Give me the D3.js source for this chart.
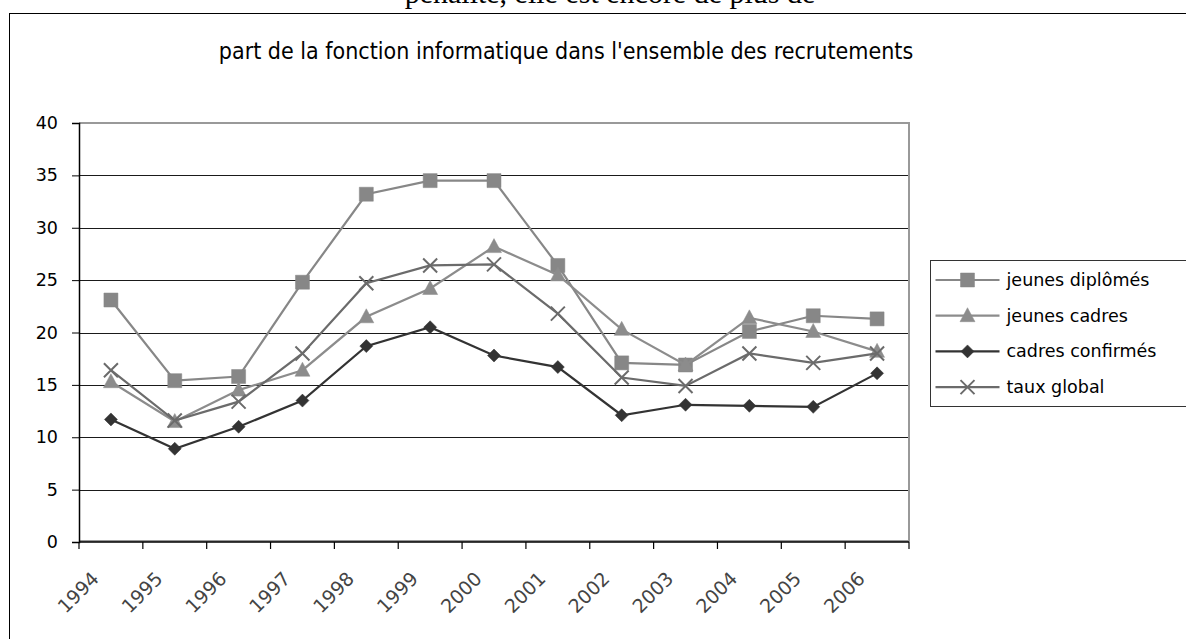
<!DOCTYPE html>
<html>
<head>
<meta charset="utf-8">
<script src="https://cdn.jsdelivr.net/npm/d3@7"></script>
<style>
  body { margin: 0; background: #fff; }
  svg { display: block; }
</style>
</head>
<body>
<script>
const years = ["1994","1995","1996","1997","1998","1999","2000","2001","2002","2003","2004","2005","2006"];
const jeunesDiplomes = [23.1, 15.4, 15.8, 24.8, 33.2, 34.5, 34.5, 26.4, 17.1, 16.9, 20.1, 21.6, 21.3];
const jeunesCadres = [15.3, 11.5, 14.5, 16.4, 21.5, 24.2, 28.2, 25.5, 20.3, 16.9, 21.4, 20.1, 18.2];
const cadresConfirmes = [11.7, 8.9, 11.0, 13.5, 18.7, 20.5, 17.8, 16.7, 12.1, 13.1, 13.0, 12.9, 16.1];
const tauxGlobal = [16.4, 11.6, 13.4, 18.0, 24.7, 26.4, 26.5, 21.8, 15.7, 14.9, 18.0, 17.1, 18.0];
const yTicks = [0, 5, 10, 15, 20, 25, 30, 35, 40];

const series = [
    {name: "jeunes diplômés", values: jeunesDiplomes, color: "#878787", marker: "square"},
    {name: "jeunes cadres", values: jeunesCadres, color: "#8c8c8c", marker: "triangle"},
    {name: "cadres confirmés", values: cadresConfirmes, color: "#333333", marker: "diamond"},
    {name: "taux global", values: tauxGlobal, color: "#6b6b6b", marker: "cross"}
];

const chart = {
    width: 1186,
    height: 639,
    plot: {left: 79, right: 909, top: 123, bottom: 542}
};

let svg = d3.select("body")
    .append("svg")
    .attr("width", chart.width)
    .attr("height", chart.height);

// bit of the surrounding document, cut off at the top like in the scan
svg.append("text")
    .attr("x", 610)
    .attr("y", 3)
    .attr("text-anchor", "middle")
    .style("font-family", "'Liberation Serif', 'DejaVu Serif', serif")
    .style("font-size", "30px")
    .text("penalité, elle est encore de plus de");

// outer frame
svg.append("rect")
    .attr("x", 9.5)
    .attr("y", 13.5)
    .attr("width", 1200)
    .attr("height", 700)
    .attr("fill", "none")
    .attr("stroke", "#000")
    .attr("stroke-width", 1);

svg.append("text")
    .attr("x", 566)
    .attr("y", 59)
    .attr("text-anchor", "middle")
    .style("font-family", "'Liberation Sans Narrow', 'DejaVu Sans Condensed', sans-serif")
    .style("font-size", "23px")
    .text("part de la fonction informatique dans l'ensemble des recrutements");

const x = d3.scaleBand()
    .domain(years)
    .range([chart.plot.left, chart.plot.right]);

const y = d3.scaleLinear()
    .domain([0, 40])
    .range([chart.plot.bottom, chart.plot.top]);

// gridlines
svg.append("g")
    .selectAll("line")
    .data(yTicks.filter(d => d > 0 && d < 40))
    .enter()
    .append("line")
    .attr("x1", chart.plot.left)
    .attr("x2", chart.plot.right)
    .attr("y1", d => Math.round(y(d)) + 0.5)
    .attr("y2", d => Math.round(y(d)) + 0.5)
    .attr("stroke", "#1a1a1a")
    .attr("stroke-width", 1);

// plot area border (top, right, bottom)
svg.append("path")
    .attr("d", `M${chart.plot.left},${chart.plot.top}H${chart.plot.right}V${chart.plot.bottom - 1}H${chart.plot.left}`)
    .attr("fill", "none")
    .attr("stroke", "#999")
    .attr("stroke-width", 2);

// y axis
const yAxis = svg.append("g")
    .attr("transform", `translate(${chart.plot.left},0)`)
    .call(d3.axisLeft(y).tickValues(yTicks).tickSize(7).tickPadding(14));
yAxis.select(".domain").attr("stroke", "#000").attr("stroke-width", 1.5);
yAxis.selectAll("line").attr("stroke", "#000");
yAxis.selectAll("text")
    .style("font-family", "'DejaVu Sans', sans-serif")
    .style("font-size", "17.5px")
    .attr("fill", "#000");

// x axis: ticks on band edges, labels rotated
const xAxis = svg.append("g")
    .attr("transform", `translate(0,${chart.plot.bottom})`);
xAxis.append("line")
    .attr("x1", chart.plot.left)
    .attr("x2", chart.plot.right)
    .attr("stroke", "#000")
    .attr("stroke-width", 1.5);
xAxis.selectAll(".tick")
    .data(years.concat(["end"]))
    .enter()
    .append("line")
    .attr("class", "tick")
    .attr("x1", (d, i) => chart.plot.left + i * x.step())
    .attr("x2", (d, i) => chart.plot.left + i * x.step())
    .attr("y1", 0)
    .attr("y2", 7)
    .attr("stroke", "#000")
    .attr("stroke-width", 1.2);
xAxis.selectAll(".label")
    .data(years)
    .enter()
    .append("text")
    .attr("class", "label")
    .attr("transform", d => `translate(${x(d) + 21},38) rotate(-45)`)
    .attr("text-anchor", "end")
    .style("font-family", "'DejaVu Sans', sans-serif")
    .style("font-size", "19px")
    .attr("fill", "#444")
    .text(d => d);

// markers
function markerPath(type) {
    if (type === "square") return "M-7,-7H7V7H-7Z";
    if (type === "triangle") return "M0,-8L7.5,6H-7.5Z";
    if (type === "diamond") return "M0,-6.5L6.5,0L0,6.5L-6.5,0Z";
    return "M-7,-7L7,7M7,-7L-7,7";
}

const line = d3.line()
    .x((d, i) => x(years[i]) + x.bandwidth() / 2)
    .y(d => y(d));

series.forEach(s => {
    const g = svg.append("g");
    g.append("path")
        .attr("d", line(s.values))
        .attr("fill", "none")
        .attr("stroke", s.color)
        .attr("stroke-width", 2.2);
    g.selectAll("path.marker")
        .data(s.values)
        .enter()
        .append("path")
        .attr("class", "marker")
        .attr("transform", (d, i) => `translate(${x(years[i]) + x.bandwidth() / 2},${y(d)})`)
        .attr("d", markerPath(s.marker))
        .attr("fill", s.marker === "cross" ? "none" : s.color)
        .attr("stroke", s.color)
        .attr("stroke-width", s.marker === "cross" ? 2 : 0.5);
});

// legend
const legend = svg.append("g")
    .attr("transform", "translate(930.5,260.5)");
legend.append("rect")
    .attr("width", 300)
    .attr("height", 146)
    .attr("fill", "#fff")
    .attr("stroke", "#333")
    .attr("stroke-width", 1);
const items = legend.selectAll("g.item")
    .data(series)
    .enter()
    .append("g")
    .attr("class", "item")
    .attr("transform", (d, i) => `translate(0,${19.5 + i * 35.7})`);
items.append("line")
    .attr("x1", 5)
    .attr("x2", 69)
    .attr("stroke", d => d.color)
    .attr("stroke-width", 2.2);
items.append("path")
    .attr("transform", "translate(37,0)")
    .attr("d", d => markerPath(d.marker))
    .attr("fill", d => d.marker === "cross" ? "none" : d.color)
    .attr("stroke", d => d.color)
    .attr("stroke-width", d => d.marker === "cross" ? 2 : 0.5);
items.append("text")
    .attr("x", 76)
    .attr("y", 6)
    .style("font-family", "'DejaVu Sans', sans-serif")
    .style("font-size", "17.5px")
    .attr("fill", "#000")
    .text(d => d.name);
</script>
</body>
</html>
